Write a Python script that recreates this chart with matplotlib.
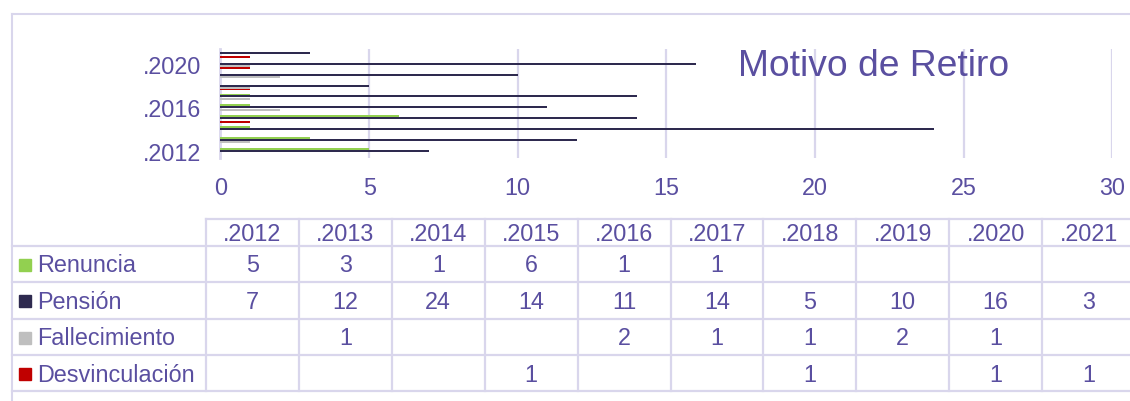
import matplotlib.pyplot as plt
import numpy as np

# datos
years = [".2012", ".2013", ".2014", ".2015", ".2016", ".2017", ".2018", ".2019", ".2020", ".2021"]
series = ["Renuncia", "Pensión", "Fallecimiento", "Desvinculación"]
renuncia = [5, 3, 1, 6, 1, 1, 0, 0, 0, 0]
pension = [7, 12, 24, 14, 11, 14, 5, 10, 16, 3]
fallecimiento = [0, 1, 0, 0, 2, 1, 1, 2, 1, 0]
desvinculacion = [0, 0, 0, 1, 0, 0, 1, 0, 1, 1]
ytick_years = [".2012", ".2016", ".2020"]
xticks = [0, 5, 10, 15, 20, 25, 30]

colors = ["#92D050", "#2E2A4F", "#BFBFBF", "#C00000"]
txt = "#5A4FA0"
grid = "#D9D6EC"

plt.rcParams["font.family"] = ["Liberation Sans", "DejaVu Sans"]

W, H = 1130, 401
fig = plt.figure(figsize=(W / 100, H / 100), dpi=100)

# capa de fondo en pixeles (marco + tabla)
bg = fig.add_axes([0, 0, 1, 1])
bg.set_xlim(0, W)
bg.set_ylim(H, 0)
bg.axis("off")

# grafico de barras
ax = fig.add_axes([220.5 / W, (H - 157.5) / H, (1112.3 - 220.5) / W, 109 / H])
y = np.arange(len(years))
offsets = [0.28, 0.1, -0.1, -0.26]
for vals, off, c in zip([renuncia, pension, fallecimiento, desvinculacion], offsets, colors):
    ax.barh(y + off, vals, height=0.18, color=c, zorder=3)
ax.set_xlim(0, 30)
ax.set_ylim(-0.5, len(years) - 0.5)
ax.set_xticks(xticks)
ax.set_xticklabels([str(v) for v in xticks], color=txt, fontsize=16.8)
ax.set_yticks([years.index(t) for t in ytick_years])
ax.set_yticklabels(ytick_years, color=txt, fontsize=16.8)
ax.tick_params(length=0)
ax.tick_params(axis="x", pad=14)
ax.tick_params(axis="y", pad=14)
ax.grid(axis="x", color=grid, lw=1.6, zorder=0)
for s in ["top", "right", "bottom"]:
    ax.spines[s].set_visible(False)
ax.spines["left"].set_color(grid)
ax.spines["left"].set_linewidth(2)
ax.patch.set_alpha(0)

ax.text(738, 76, "Motivo de Retiro", transform=bg.transData, color=txt,
        fontsize=26.8, ha="left", va="baseline")

# marco exterior
bg.plot([12, 12], [14, H + 5], color=grid, lw=1.5)
bg.plot([12, W + 5], [14, 14], color=grid, lw=1.5)

# tabla de datos
x0, cw = 206, 92.9
rows = [219, 246, 282, 318.5, 355, 391]
bg.plot([x0, W + 5], [rows[0], rows[0]], color=grid, lw=1.6)
for r in rows[1:]:
    bg.plot([12, W + 5], [r, r], color=grid, lw=1.6)
for k in range(len(years) + 1):
    xe = x0 + cw * k
    bg.plot([xe, xe], [rows[0], rows[-1]], color=grid, lw=1.6)
for k, yr in enumerate(years):
    bg.text(x0 + cw * (k + 0.5), (rows[0] + rows[1]) / 2 + 2, yr, color=txt,
            fontsize=16.8, ha="center", va="center")

for i, (name, vals, c) in enumerate(zip(series, [renuncia, pension, fallecimiento, desvinculacion], colors)):
    yc = (rows[i + 1] + rows[i + 2]) / 2
    bg.add_patch(plt.Rectangle((19, yc - 5), 12, 12, color=c))
    bg.text(37, yc + 2, name, color=txt, fontsize=16.8, ha="left", va="center")
    for k, v in enumerate(vals):
        if v:
            bg.text(x0 + cw * (k + 0.5), yc + 2, str(v), color=txt,
                    fontsize=16.8, ha="center", va="center")

fig.savefig("out.png", dpi=100)
